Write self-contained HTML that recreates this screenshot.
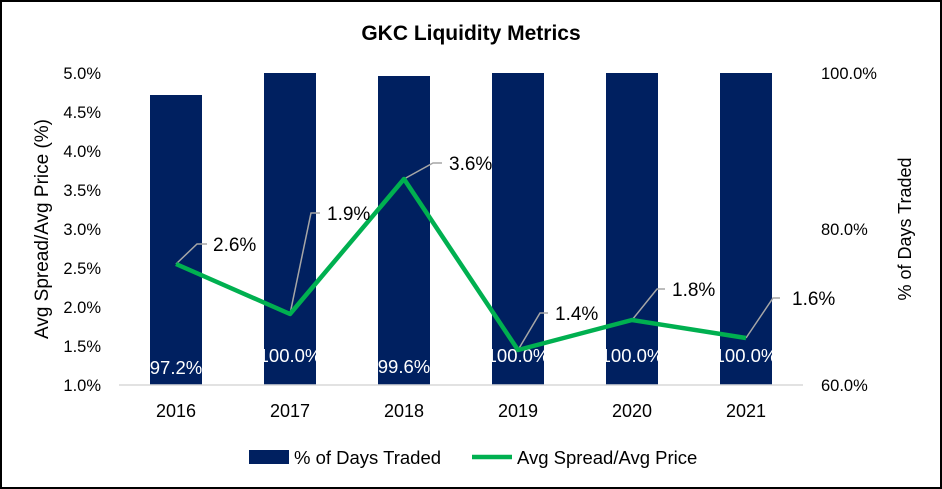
<!DOCTYPE html>
<html><head><meta charset="utf-8"><style>
html,body{margin:0;padding:0;background:#fff;}
svg{display:block;font-family:"Liberation Sans",sans-serif;}
</style></head><body>
<svg width="942" height="489" viewBox="0 0 942 489" xmlns="http://www.w3.org/2000/svg">
<rect x="1" y="1" width="940" height="487" fill="#fff" stroke="#000" stroke-width="2"/>
<text x="471" y="40" text-anchor="middle" font-size="21" font-weight="bold" fill="#000">GKC Liquidity Metrics</text>
<g fill="#002060">
<rect x="150" y="95" width="52" height="290"/>
<rect x="264" y="73" width="52" height="312"/>
<rect x="378" y="76" width="52" height="309"/>
<rect x="492" y="73" width="52" height="312"/>
<rect x="606" y="73" width="52" height="312"/>
<rect x="720" y="73" width="52" height="312"/>
</g>
<line x1="119" y1="385" x2="803" y2="385" stroke="#d9d9d9" stroke-width="1.5"/>
<g font-size="16.5" fill="#000" text-anchor="end">
<text x="101" y="79">5.0%</text><text x="101" y="118">4.5%</text><text x="101" y="157">4.0%</text>
<text x="101" y="196">3.5%</text><text x="101" y="235">3.0%</text><text x="101" y="274">2.5%</text>
<text x="101" y="313">2.0%</text><text x="101" y="352">1.5%</text><text x="101" y="391">1.0%</text>
</g>
<g font-size="16.5" fill="#000">
<text x="821" y="79">100.0%</text><text x="821" y="235">80.0%</text><text x="821" y="391">60.0%</text>
</g>
<g font-size="18" fill="#000" text-anchor="middle">
<text x="176" y="417">2016</text><text x="290" y="417">2017</text><text x="404" y="417">2018</text>
<text x="518" y="417">2019</text><text x="632" y="417">2020</text><text x="746" y="417">2021</text>
</g>
<text transform="translate(48,229) rotate(-90)" font-size="19" text-anchor="middle">Avg Spread/Avg Price (%)</text>
<text transform="translate(911,229) rotate(-90)" font-size="18" text-anchor="middle">% of Days Traded</text>
<g font-size="18.5" fill="#fff" text-anchor="middle">
<text x="176" y="374">97.2%</text><text x="290" y="362">100.0%</text><text x="404" y="373">99.6%</text>
<text x="518" y="362">100.0%</text><text x="632" y="362">100.0%</text><text x="746" y="362">100.0%</text>
</g>
<g stroke="#a6a6a6" stroke-width="1.5" fill="none">
<polyline points="176,264 197,244 207,244"/>
<polyline points="290,314 311,213 320,213"/>
<polyline points="404,179 433,163 442,163"/>
<polyline points="518,350 540,313 548,313"/>
<polyline points="632,320 657,289 665,289"/>
<polyline points="746,338 773,298 780,298"/>
</g>
<polyline points="176,264 290,314 404,179 518,350 632,320 746,338" fill="none" stroke="#00b050" stroke-width="4.5" stroke-linejoin="round"/>
<g font-size="19" fill="#000">
<text x="213" y="251">2.6%</text><text x="327" y="220">1.9%</text><text x="449" y="170">3.6%</text>
<text x="555" y="320">1.4%</text><text x="672" y="296">1.8%</text><text x="792" y="305">1.6%</text>
</g>
<rect x="249" y="450" width="40" height="14" fill="#002060"/>
<text x="294" y="464" font-size="18.5">% of Days Traded</text>
<line x1="472" y1="457" x2="512" y2="457" stroke="#00b050" stroke-width="4.5"/>
<text x="517" y="464" font-size="18.5">Avg Spread/Avg Price</text>
</svg>
</body></html>
